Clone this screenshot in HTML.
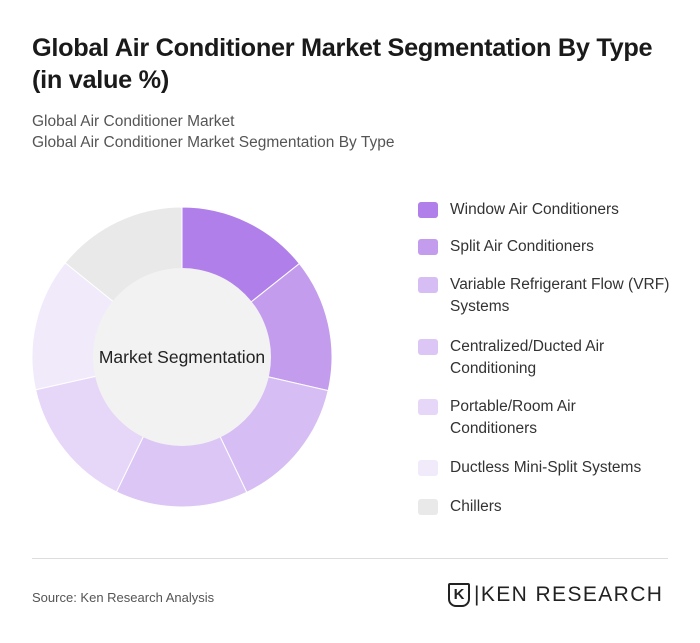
<!DOCTYPE html>
<html><head><meta charset="utf-8"><style>
body{margin:0;background:#fff;font-family:"Liberation Sans",sans-serif;}
#wrap{position:relative;width:700px;height:643px;overflow:hidden;}
.t{position:absolute;left:32px;top:32px;font-size:25.3px;font-weight:bold;color:#1a1a1a;line-height:32px;letter-spacing:-0.3px;white-space:nowrap}
.sub{position:absolute;left:32px;font-size:15.5px;color:#555;}
.leg{position:absolute;left:418px;width:270px;}
.sw{position:absolute;left:0;top:0;width:20px;height:16px;border-radius:3px}
.lt{position:absolute;left:32px;top:-3px;font-size:15.5px;color:#333;line-height:22px;white-space:nowrap}
</style></head><body>
<div id="wrap">
<div class="t">Global Air Conditioner Market Segmentation By Type<br>(in value %)</div>
<div class="sub" style="top:113px">Global Air Conditioner Market</div>
<div class="sub" style="top:134px">Global Air Conditioner Market Segmentation By Type</div>
<svg id="donut" width="700" height="643" style="position:absolute;left:0;top:0"></svg>
<div id="legend">
<div class="leg" style="top:202px"><div class="sw" style="background:#b07fea"></div><div class="lt">Window Air Conditioners</div></div>
<div class="leg" style="top:239px"><div class="sw" style="background:#c39cee"></div><div class="lt">Split Air Conditioners</div></div>
<div class="leg" style="top:277px"><div class="sw" style="background:#d6bdf4"></div><div class="lt">Variable Refrigerant Flow (VRF)<br>Systems</div></div>
<div class="leg" style="top:339px"><div class="sw" style="background:#dcc6f5"></div><div class="lt">Centralized/Ducted Air<br>Conditioning</div></div>
<div class="leg" style="top:399px"><div class="sw" style="background:#e6d6f8"></div><div class="lt">Portable/Room Air<br>Conditioners</div></div>
<div class="leg" style="top:460px"><div class="sw" style="background:#f1eafb"></div><div class="lt">Ductless Mini-Split Systems</div></div>
<div class="leg" style="top:499px"><div class="sw" style="background:#e9e9e9"></div><div class="lt">Chillers</div></div>
</div>
<div style="position:absolute;left:32px;top:558px;width:636px;height:1px;background:#ddd"></div>
<div style="position:absolute;left:32px;top:590px;font-size:13px;color:#555">Source: Ken Research Analysis</div>
<div style="position:absolute;left:448px;top:583px;width:22px;height:24px;border:2px solid #222;border-radius:2px 2px 8px 8px;box-sizing:border-box;font-size:15px;font-weight:bold;text-align:center;line-height:20px;color:#222">K</div>
<div style="position:absolute;left:474px;top:583px;font-size:21px;color:#222;letter-spacing:1.4px">|KEN RESEARCH</div>
</div>
<script>
const categories=["Window Air Conditioners","Split Air Conditioners","Variable Refrigerant Flow (VRF) Systems","Centralized/Ducted Air Conditioning","Portable/Room Air Conditioners","Ductless Mini-Split Systems","Chillers"];
const values=[14.3,14.3,14.3,14.3,14.3,14.3,14.2];
const colors=["#b07fea","#c39cee","#d6bdf4","#dcc6f5","#e6d6f8","#f1eafb","#e9e9e9"];
const svg=document.getElementById('donut');const NS="http://www.w3.org/2000/svg";
const cx=182,cy=357,R=150,r=89;
const total=values.reduce((a,b)=>a+b,0);let a0=0;
function pt(rad,a){return [cx+rad*Math.sin(a),cy-rad*Math.cos(a)];}
values.forEach((v,i)=>{const a1=a0+v/total*2*Math.PI;const [x1,y1]=pt(R,a0),[x2,y2]=pt(R,a1);const lg=(a1-a0)>Math.PI?1:0;
const p=document.createElementNS(NS,'path');
p.setAttribute('d',`M${x1},${y1}A${R},${R} 0 ${lg} 1 ${x2},${y2}L${cx},${cy}Z`);
p.setAttribute('fill',colors[i]);p.setAttribute('stroke','#fff');p.setAttribute('stroke-width','1');


svg.appendChild(p);a0=a1;});
const c=document.createElementNS(NS,'circle');c.setAttribute('cx',cx);c.setAttribute('cy',cy);c.setAttribute('r',r);c.setAttribute('fill','#f2f2f2');


svg.appendChild(c);
const t=document.createElementNS(NS,'text');t.setAttribute('x',cx);t.setAttribute('y',cy+6);t.setAttribute('text-anchor','middle');t.setAttribute('font-size','17.5');t.setAttribute('fill','#222');t.setAttribute('font-family','Liberation Sans, sans-serif');t.textContent='Market Segmentation';


svg.appendChild(t);
</script>
</body></html>
